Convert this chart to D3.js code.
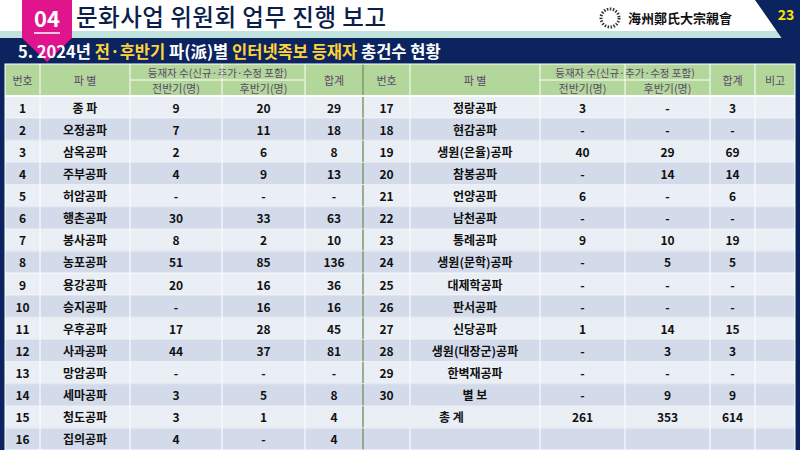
<!DOCTYPE html><html><head><meta charset="utf-8"><script src="https://cdn.jsdelivr.net/npm/d3@7"></script>
<style>body{margin:0;background:#fff}svg{display:block}</style></head><body><svg id="s" width="800" height="450"></svg>
<script>
const nums = d3.range(1,31);
const names = ["종 파","오정공파","삼옥공파","주부공파","허암공파","행촌공파","봉사공파","농포공파","용강공파","승지공파","우후공파","사과공파","망암공파","세마공파","청도공파","집의공파","정랑공파","현감공파","생원(은율)공파","참봉공파","언양공파","남천공파","통례공파","생원(문학)공파","대제학공파","판서공파","신당공파","생원(대장군)공파","한벽재공파","별 보"];
const first = ["9","7","2","4","-","30","8","51","20","-","17","44","-","3","3","4","3","-","40","-","6","-","9","-","-","-","1","-","-","-"];
const second = ["20","11","6","9","-","33","2","85","16","16","28","37","-","5","1","-","-","-","29","14","-","-","10","5","-","-","14","3","-","9"];
const totals = ["29","18","8","13","-","63","10","136","36","16","45","81","-","8","4","4","3","-","69","14","6","-","19","5","-","-","15","3","-","9"];
const grand = ["261","353","614"];
const colEdges = [5,40,130,222,305,363,410,540,625,710,755,795];
const svg = d3.select("#s");
const F = "'Noto Sans CJK KR','Noto Sans',sans-serif";
svg.append("rect").attr("x",0).attr("y",31).attr("width",800).attr("height",8).attr("fill","#bfe3dc");
svg.append("rect").attr("x",0).attr("y",38).attr("width",800).attr("height",412).attr("fill","#0b2460");
svg.append("path").attr("d","M755,0 L800,0 L800,40 L783,40 Z").attr("fill","#0b2460");
svg.append("text").attr("x",786).attr("y",20).attr("text-anchor","middle").attr("fill","#ffe000").attr("font-family",F).attr("font-weight","bold").attr("font-size",14).text("23");
svg.append("path").attr("d","M22,0 L72,0 L72,38 L47,62 L22,38 Z").attr("fill","#e0148c");
svg.append("text").attr("x",47).attr("y",27).attr("text-anchor","middle").attr("fill","#fff").attr("font-family",F).attr("font-weight","bold").attr("font-size",22).text("04");
svg.append("line").attr("x1",34).attr("x2",60).attr("y1",33).attr("y2",33).attr("stroke","#fff").attr("stroke-width",1.5);
svg.append("text").attr("x",76).attr("y",26).attr("fill","#0b1f4a").attr("font-family",F).attr("font-weight","500").attr("font-size",23.5).attr("textLength",310).text("문화사업 위원회 업무 진행 보고");
svg.append("circle").attr("cx",610).attr("cy",18).attr("r",9).attr("fill","none").attr("stroke","#333").attr("stroke-dasharray","1.5,1.5").attr("stroke-width",3);
svg.append("text").attr("x",628).attr("y",23).attr("fill","#111").attr("font-family","'Noto Sans CJK TC',serif").attr("font-weight","bold").attr("font-size",13).text("海州鄭氏大宗親會");
const st = svg.append("text").attr("x",18).attr("y",58).attr("font-family",F).attr("font-weight","bold").attr("font-size",16.5).attr("fill","#fff");
[["5. 2024년 ","#fff"],["전·후반기","#ffd33a"],[" 파(派)별 ","#fff"],["인터넷족보 등재자","#ffd33a"],[" 총건수 현황","#fff"]].forEach(([t,c])=>st.append("tspan").attr("fill",c).text(t));
const hy0=64, hy1=96, nRows=16;
const y = d3.scaleBand().domain(d3.range(nRows)).range([hy1,450]);
const g = svg.append("g");
g.append("rect").attr("x",5).attr("y",hy0).attr("width",790).attr("height",hy1-hy0).attr("fill","#b3d69a");
d3.range(nRows).forEach(i=>g.append("rect").attr("x",5).attr("y",y(i)).attr("width",790).attr("height",y.bandwidth()).attr("fill",i%2?"#d3dbeb":"#eaeef5"));
const cx = i => (colEdges[i]+colEdges[i+1])/2;
const txt=(x,yy,t,o={})=>g.append("text").attr("x",x).attr("y",yy).attr("text-anchor","middle").attr("dominant-baseline","central").attr("font-family",F).attr("font-size",o.s||12).attr("font-weight",o.w||"normal").attr("fill",o.c||"#111").text(t);
const hc="#5a4a6a";
[[0,"번호"],[1,"파 별"],[4,"합계"],[5,"번호"],[6,"파 별"],[9,"합계"],[10,"비고"]].forEach(([i,t])=>txt(cx(i),(hy0+hy1)/2,t,{c:hc,s:11}));
[[2],[7]].forEach(([a])=>{txt((colEdges[a]+colEdges[a+2])/2,72,"등재자 수(신규·추가·수정 포함)",{c:hc,s:10.5});txt(cx(a),88,"전반기(명)",{c:hc,s:11});txt(cx(a+1),88,"후반기(명)",{c:hc,s:11});});
nums.forEach((n,k)=>{
  const side = k<16?0:5, r = k<16?k:k-16, yy=y(r)+y.bandwidth()/2;
  txt(cx(side),yy,n,{w:"bold"}); txt(cx(side+1),yy,names[k],{w:"bold"});
  txt(cx(side+2),yy,first[k],{w:"bold"}); txt(cx(side+3),yy,second[k],{w:"bold"}); txt(cx(side+4),yy,totals[k],{w:"bold"});
});
const gy=y(14)+y.bandwidth()/2;
grand.forEach((v,i)=>txt(cx(7+i),gy,v,{w:"bold"}));
const L=(x1,y1,x2,y2,c="#fff",w=1)=>g.append("line").attr("x1",x1).attr("y1",y1).attr("x2",x2).attr("y2",y2).attr("stroke",c).attr("stroke-width",w);
colEdges.forEach((x,i)=>{ if(i==0||i==11) return; L(x,hy0,x,450,i==5?"#7a9a70":"#fff",i==5?1.5:1);});
L(colEdges[2],80,colEdges[4],80); L(colEdges[7],80,colEdges[9],80);
L(5,hy1,795,hy1,"#fff",2);
d3.range(1,nRows).forEach(i=>L(5,y(i),795,y(i),"#fff",0.8));
g.append("rect").attr("x",colEdges[5]+1).attr("y",y(14)+0.5).attr("width",colEdges[7]-colEdges[5]-2).attr("height",y.bandwidth()-1).attr("fill","#eaeef5");
txt((colEdges[5]+colEdges[7])/2,gy,"총    계",{w:"bold"});
g.append("rect").attr("x",5).attr("y",hy0).attr("width",790).attr("height",450-hy0).attr("fill","none").attr("stroke","#fff");
</script></body></html>
